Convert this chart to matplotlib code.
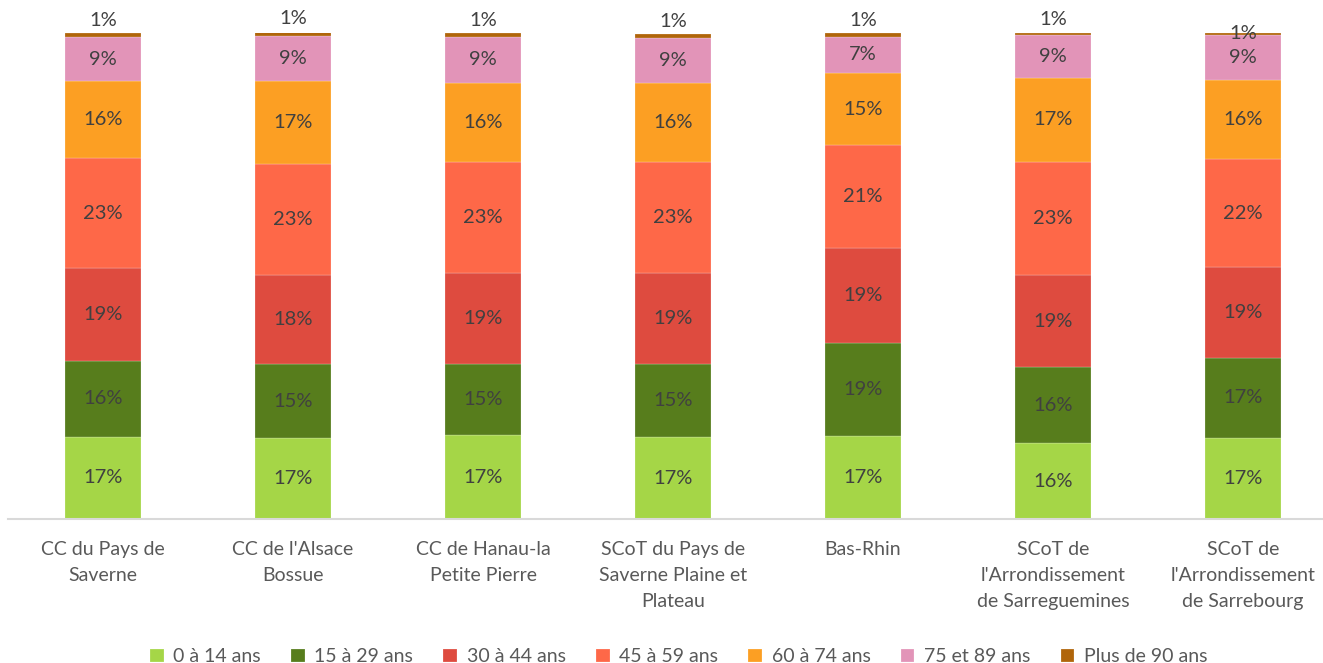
import numpy as np
import matplotlib

matplotlib.use('Agg')
import matplotlib.pyplot as plt

plt.rcParams['font.family'] = ['Lato', 'DejaVu Sans']

territoires = [
    "CC du Pays de\nSaverne",
    "CC de l'Alsace\nBossue",
    "CC de Hanau-la\nPetite Pierre",
    "SCoT du Pays de\nSaverne Plaine et\nPlateau",
    "Bas-Rhin",
    "SCoT de\nl'Arrondissement\nde Sarreguemines",
    "SCoT de\nl'Arrondissement\nde Sarrebourg",
]

tranches = ["0 à 14 ans", "15 à 29 ans", "30 à 44 ans", "45 à 59 ans",
            "60 à 74 ans", "75 et 89 ans", "Plus de 90 ans"]

# parts en % par tranche d'age (une valeur par territoire)
age_0_14 = [16.9, 16.6, 17.2, 16.8, 17.0, 15.6, 16.6]
age_15_29 = [15.6, 15.3, 14.6, 15.0, 19.3, 15.6, 16.6]
age_30_44 = [19.1, 18.3, 18.9, 18.9, 19.4, 19.0, 18.7]
age_45_59 = [22.6, 22.8, 22.8, 22.8, 21.2, 23.3, 22.1]
age_60_74 = [16.0, 17.1, 16.3, 16.3, 14.9, 17.3, 16.4]
age_75_89 = [8.9, 9.2, 9.4, 9.2, 7.4, 8.7, 9.1]
age_90_plus = [0.8, 1.0, 0.8, 0.8, 0.8, 0.6, 0.6]

series = [age_0_14, age_15_29, age_30_44, age_45_59, age_60_74, age_75_89, age_90_plus]
couleurs = ['#A5D647', '#577D1C', '#DE4B3F', '#FE6848', '#FC9F23', '#E294B8', '#B0650A']

fig = plt.figure(figsize=(13.23, 6.63), dpi=100)
ax = fig.add_axes([8 / 1323, 144 / 663, 1330 / 1323, 486 / 663])

x = np.arange(len(territoires))
bottom = np.zeros(len(territoires))
for vals, col, nom in zip(series, couleurs, tranches):
    vals = np.array(vals)
    ax.bar(x, vals, 0.395, bottom=bottom, color=col, edgecolor='#FFFFFF80',
           linewidth=0.3, label=nom)
    if nom != "Plus de 90 ans":
        for xi, b, v in zip(x, bottom, vals):
            ax.text(xi, b + v / 2, f"{round(v):.0f}%", ha='center', va='center',
                    fontsize=14.5, color='#404040')
    else:
        for xi, b, v in zip(x, bottom, vals):
            ypos = b + v + 2.6 if xi < len(territoires) - 1 else b + v - 0.2
            ax.text(xi, ypos, f"{max(round(v), 1):.0f}%", ha='center',
                    va='center', fontsize=14.5, color='#404040')
    bottom += vals

ax.set_xlim(-0.5, 6.5)
ax.set_ylim(0, 100)
ax.set_xticks(x)
ax.set_xticklabels(territoires, fontsize=14, color='#595959', linespacing=1.65)
ax.tick_params(axis='x', length=0, pad=16)
ax.set_yticks([])
for s in ['left', 'right', 'top']:
    ax.spines[s].set_visible(False)
ax.spines['bottom'].set_color('#D9D9D9')
ax.spines['bottom'].set_linewidth(1.5)

fig.legend(loc='lower center', bbox_to_anchor=(0.513, -0.03), ncol=7,
           frameon=False, fontsize=14, handlelength=0.7, handleheight=0.7,
           handletextpad=0.5, columnspacing=1.55, labelcolor='#595959')

fig.savefig('out.png', dpi=100)
